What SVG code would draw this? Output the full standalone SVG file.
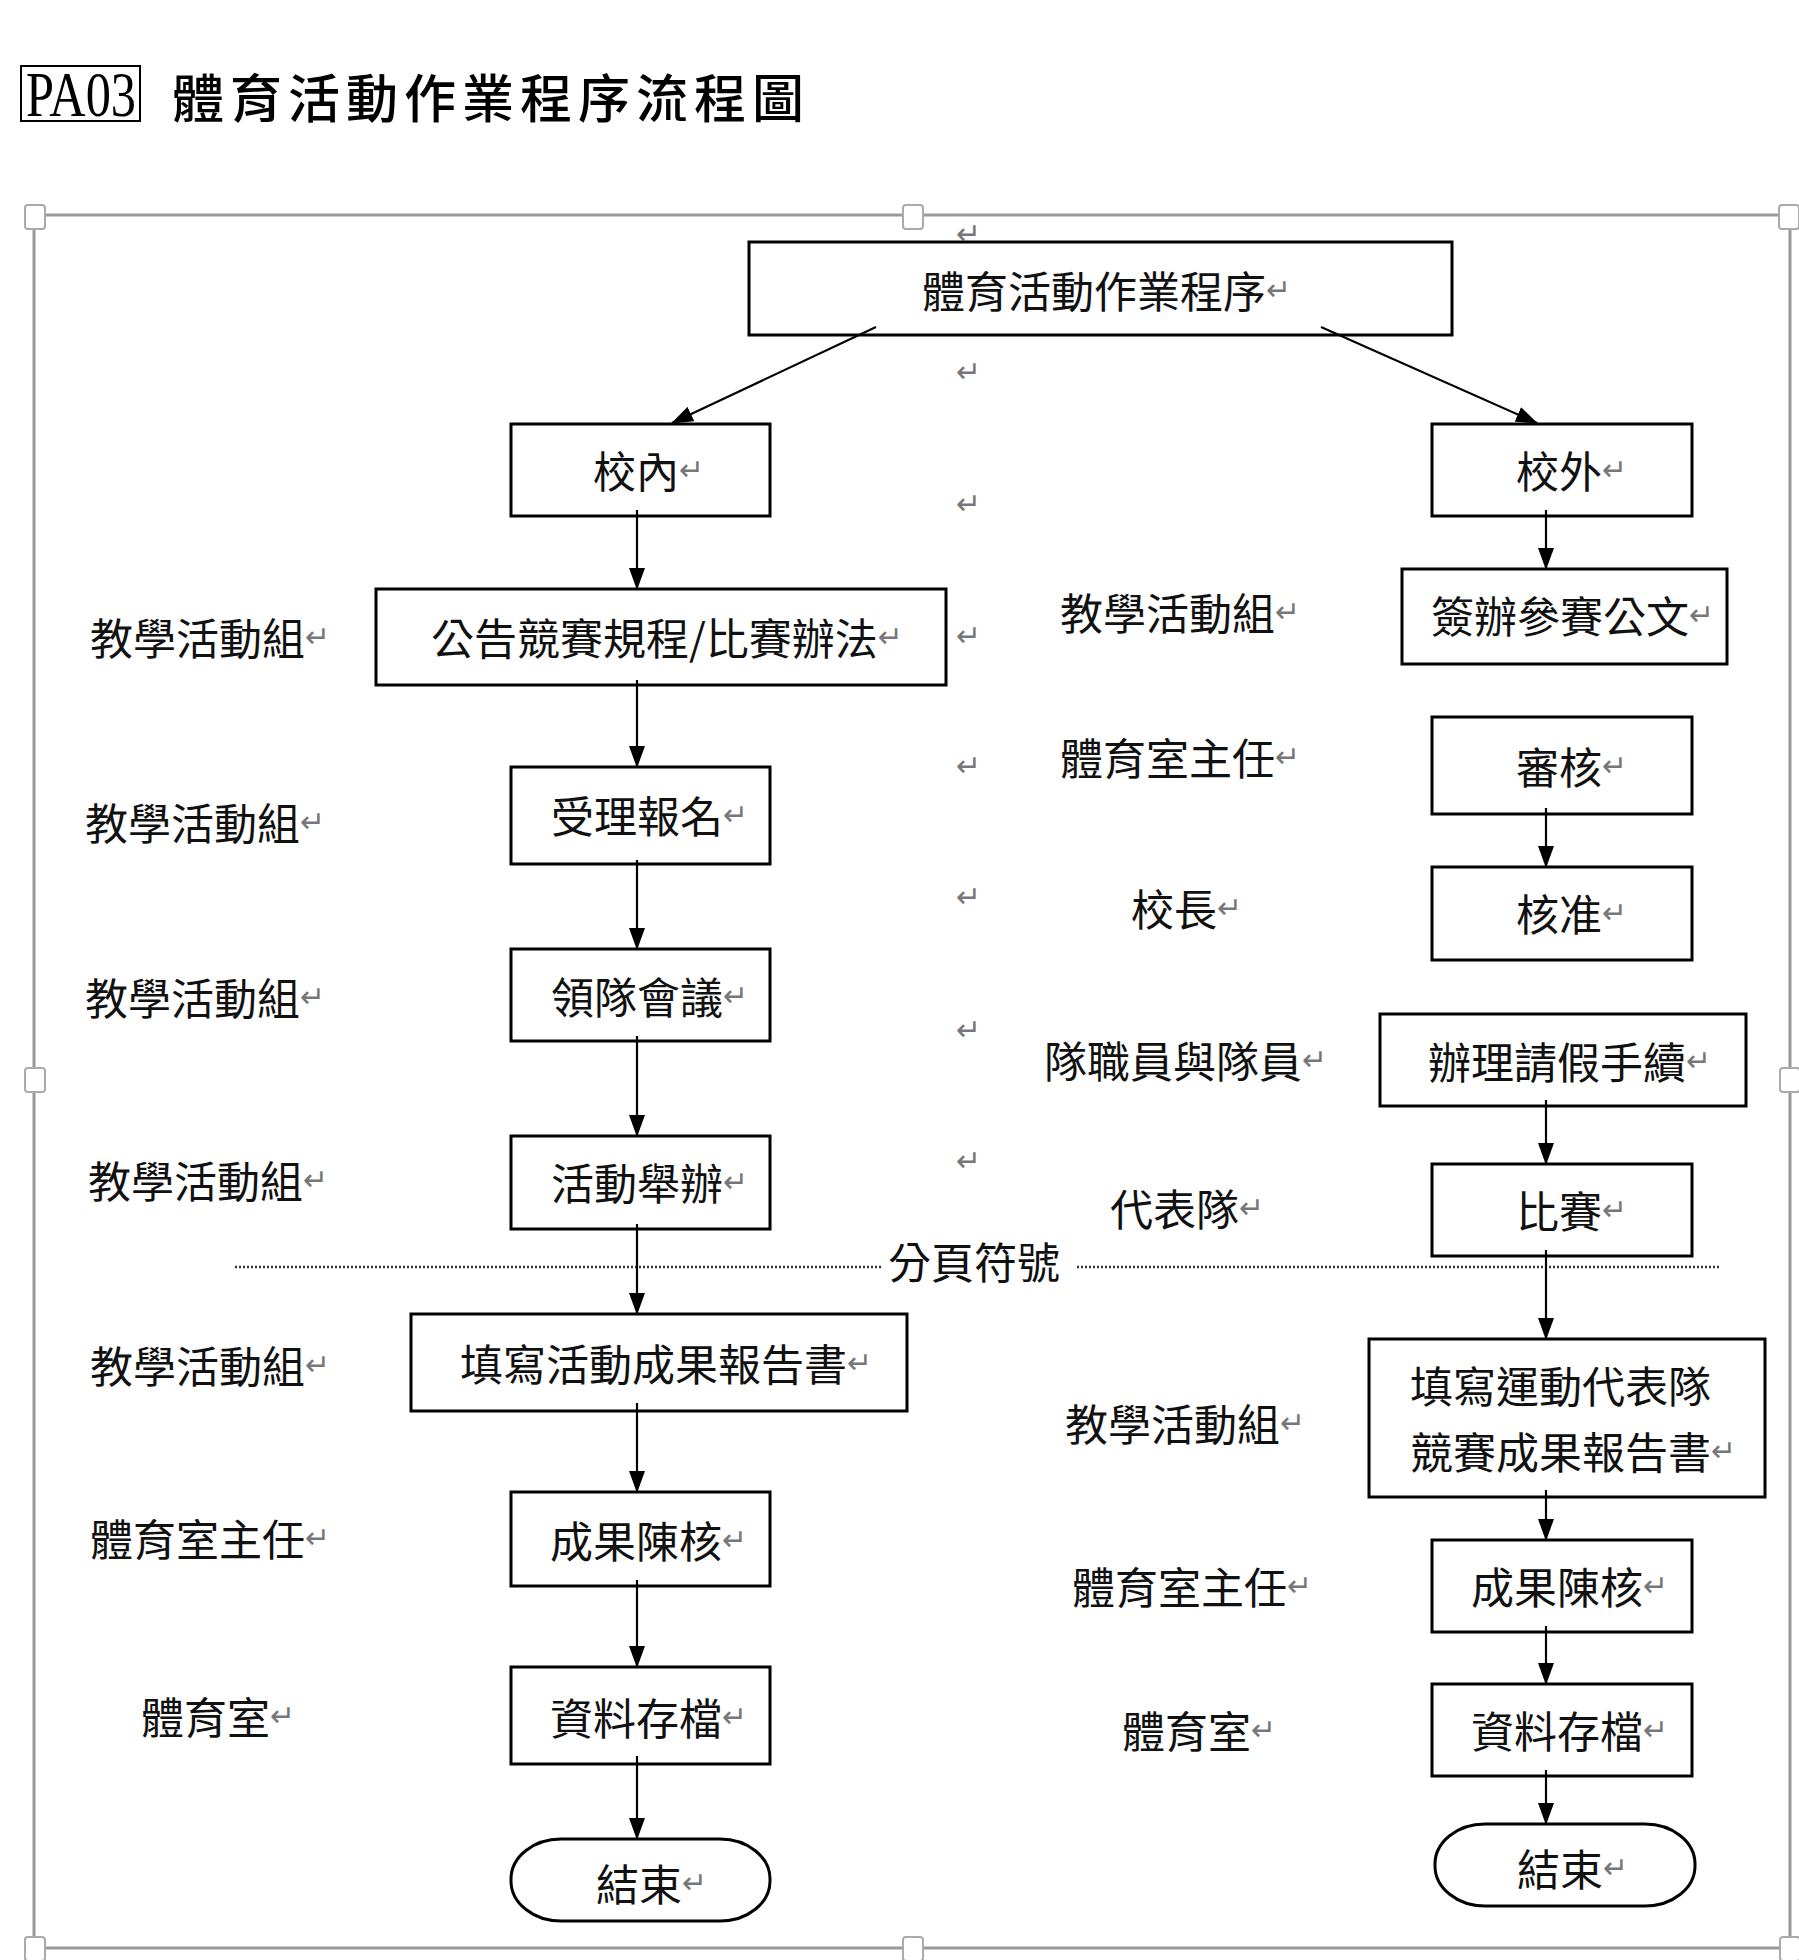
<svg xmlns="http://www.w3.org/2000/svg" width="1799" height="1960" viewBox="0 0 1799 1960">
<defs>
<style>
.t{font-family:"Noto Sans CJK TC","Noto Sans CJK SC",sans-serif;font-size:43px;fill:#111;dominant-baseline:central}
.r{font-family:"DejaVu Sans",sans-serif;font-size:30px;fill:#777}
.box{fill:#fff;stroke:#000;stroke-width:3}
.term{fill:#fff;stroke:#000;stroke-width:3}
.c{stroke:#000;stroke-width:2.2;fill:none;marker-end:url(#ah)}
.h{fill:#fff;stroke:#aaa;stroke-width:2}
.pb{stroke:#333;stroke-width:2.5;stroke-dasharray:2 2}
</style>
<marker id="ah" markerUnits="userSpaceOnUse" markerWidth="22" markerHeight="16" viewBox="0 0 22 16" refX="21" refY="8" orient="auto">
<path d="M0,0 L22,8 L0,16 Z" fill="#000"/>
</marker>
</defs>
<rect width="1799" height="1960" fill="#fff"/>

<g id="title">
<rect x="21" y="66" width="119" height="55" fill="none" stroke="#000" stroke-width="2"/>
<text x="26" y="116" font-family="Liberation Serif, serif" font-size="64" textLength="110" lengthAdjust="spacingAndGlyphs">PA03</text>
<text x="172" y="95" font-family="Noto Sans CJK TC, sans-serif" font-size="52" font-weight="500" dominant-baseline="central" textLength="632">體育活動作業程序流程圖</text>
</g>

<g id="frame">
<rect x="34" y="215" width="1756" height="1733" fill="none" stroke="#999" stroke-width="3"/>
<rect class="h" x="25" y="205" width="20" height="24" rx="3"/>
<rect class="h" x="903" y="205" width="20" height="24" rx="3"/>
<rect class="h" x="1779" y="205" width="20" height="24" rx="3"/>
<rect class="h" x="25" y="1068" width="20" height="24" rx="3"/>
<rect class="h" x="1780" y="1068" width="20" height="24" rx="3"/>
<rect class="h" x="25" y="1937" width="20" height="24" rx="3"/>
<rect class="h" x="903" y="1937" width="20" height="24" rx="3"/>
<rect class="h" x="1780" y="1937" width="20" height="24" rx="3"/>
</g>

<g id="marks" class="r">
<text x="956" y="244">↵</text>
<text x="956" y="382">↵</text>
<text x="956" y="514">↵</text>
<text x="956" y="646">↵</text>
<text x="956" y="776">↵</text>
<text x="956" y="907">↵</text>
<text x="956" y="1040">↵</text>
<text x="956" y="1171">↵</text>
</g>

<g id="pagebreak">
<line class="pb" x1="235" y1="1267" x2="882" y2="1267"/>
<text class="t" x="888" y="1260" font-size="44">分頁符號</text>
<line class="pb" x1="1077" y1="1267" x2="1721" y2="1267"/>
</g>

<g id="n-start"><rect class="box" x="749" y="242" width="703" height="93"/><text class="t" x="922" y="289">體育活動作業程序<tspan class="r">↵</tspan></text></g>
<g id="n-in"><rect class="box" x="511" y="424" width="259" height="92"/><text class="t" x="593" y="469">校內<tspan class="r">↵</tspan></text></g>
<g id="n-out"><rect class="box" x="1432" y="424" width="260" height="92"/><text class="t" x="1516" y="469">校外<tspan class="r">↵</tspan></text></g>
<g id="n-announce"><rect class="box" x="376" y="589" width="570" height="96" stroke-width="3.5"/><text class="t" x="431" y="636">公告競賽規程/比賽辦法<tspan class="r">↵</tspan></text></g>
<g id="n-doc"><rect class="box" x="1402" y="569" width="325" height="95"/><text class="t" x="1431" y="614">簽辦參賽公文<tspan class="r">↵</tspan></text></g>
<g id="n-register"><rect class="box" x="511" y="767" width="259" height="97"/><text class="t" x="551" y="814">受理報名<tspan class="r">↵</tspan></text></g>
<g id="n-review"><rect class="box" x="1432" y="717" width="260" height="97"/><text class="t" x="1516" y="765">審核<tspan class="r">↵</tspan></text></g>
<g id="n-approve"><rect class="box" x="1432" y="867" width="260" height="93"/><text class="t" x="1516" y="912">核准<tspan class="r">↵</tspan></text></g>
<g id="n-meeting"><rect class="box" x="511" y="949" width="259" height="92"/><text class="t" x="551" y="995">領隊會議<tspan class="r">↵</tspan></text></g>
<g id="n-leave"><rect class="box" x="1380" y="1014" width="366" height="92"/><text class="t" x="1428" y="1060">辦理請假手續<tspan class="r">↵</tspan></text></g>
<g id="n-hold"><rect class="box" x="511" y="1136" width="259" height="93"/><text class="t" x="551" y="1181">活動舉辦<tspan class="r">↵</tspan></text></g>
<g id="n-match"><rect class="box" x="1432" y="1164" width="260" height="92"/><text class="t" x="1516" y="1209">比賽<tspan class="r">↵</tspan></text></g>
<g id="n-report-l"><rect class="box" x="411" y="1314" width="496" height="97"/><text class="t" x="460" y="1362">填寫活動成果報告書<tspan class="r">↵</tspan></text></g>
<g id="n-report-r"><rect class="box" x="1369" y="1339" width="396" height="158"/><text class="t" x="1410" y="1384">填寫運動代表隊</text><text class="t" x="1410" y="1450">競賽成果報告書<tspan class="r">↵</tspan></text></g>
<g id="n-submit-l"><rect class="box" x="511" y="1492" width="259" height="94"/><text class="t" x="550" y="1539">成果陳核<tspan class="r">↵</tspan></text></g>
<g id="n-submit-r"><rect class="box" x="1432" y="1540" width="260" height="92"/><text class="t" x="1471" y="1585">成果陳核<tspan class="r">↵</tspan></text></g>
<g id="n-archive-l"><rect class="box" x="511" y="1667" width="259" height="97"/><text class="t" x="550" y="1716">資料存檔<tspan class="r">↵</tspan></text></g>
<g id="n-archive-r"><rect class="box" x="1432" y="1684" width="260" height="92"/><text class="t" x="1471" y="1729">資料存檔<tspan class="r">↵</tspan></text></g>
<g id="n-end-l"><rect class="term" x="511" y="1839" width="259" height="82" rx="50" ry="40"/><text class="t" x="596" y="1882">結束<tspan class="r">↵</tspan></text></g>
<g id="n-end-r"><rect class="term" x="1435" y="1824" width="260" height="82" rx="50" ry="40"/><text class="t" x="1517" y="1867">結束<tspan class="r">↵</tspan></text></g>

<g id="connectors">
<line class="c" x1="876" y1="327" x2="672" y2="423"/>
<line class="c" x1="1321" y1="327" x2="1537" y2="423"/>
<line class="c" x1="637" y1="510" x2="637" y2="589"/>
<line class="c" x1="637" y1="680" x2="637" y2="767"/>
<line class="c" x1="637" y1="860" x2="637" y2="949"/>
<line class="c" x1="637" y1="1036" x2="637" y2="1136"/>
<line class="c" x1="637" y1="1224" x2="637" y2="1314"/>
<line class="c" x1="637" y1="1403" x2="637" y2="1492"/>
<line class="c" x1="637" y1="1580" x2="637" y2="1667"/>
<line class="c" x1="637" y1="1756" x2="637" y2="1839"/>
<line class="c" x1="1546" y1="510" x2="1546" y2="569"/>
<line class="c" x1="1546" y1="808" x2="1546" y2="867"/>
<line class="c" x1="1546" y1="1100" x2="1546" y2="1164"/>
<line class="c" x1="1546" y1="1250" x2="1546" y2="1339"/>
<line class="c" x1="1546" y1="1490" x2="1546" y2="1540"/>
<line class="c" x1="1546" y1="1626" x2="1546" y2="1684"/>
<line class="c" x1="1546" y1="1770" x2="1546" y2="1824"/>
</g>

<g id="labels">
<text class="t" x="90" y="636">教學活動組<tspan class="r">↵</tspan></text>
<text class="t" x="85" y="821">教學活動組<tspan class="r">↵</tspan></text>
<text class="t" x="85" y="996">教學活動組<tspan class="r">↵</tspan></text>
<text class="t" x="88" y="1179">教學活動組<tspan class="r">↵</tspan></text>
<text class="t" x="90" y="1364">教學活動組<tspan class="r">↵</tspan></text>
<text class="t" x="90" y="1537">體育室主任<tspan class="r">↵</tspan></text>
<text class="t" x="141" y="1715">體育室<tspan class="r">↵</tspan></text>
<text class="t" x="1060" y="611">教學活動組<tspan class="r">↵</tspan></text>
<text class="t" x="1060" y="756">體育室主任<tspan class="r">↵</tspan></text>
<text class="t" x="1131" y="907">校長<tspan class="r">↵</tspan></text>
<text class="t" x="1044" y="1059">隊職員與隊員<tspan class="r">↵</tspan></text>
<text class="t" x="1110" y="1207">代表隊<tspan class="r">↵</tspan></text>
<text class="t" x="1065" y="1422">教學活動組<tspan class="r">↵</tspan></text>
<text class="t" x="1072" y="1585">體育室主任<tspan class="r">↵</tspan></text>
<text class="t" x="1122" y="1729">體育室<tspan class="r">↵</tspan></text>
</g>
</svg>
